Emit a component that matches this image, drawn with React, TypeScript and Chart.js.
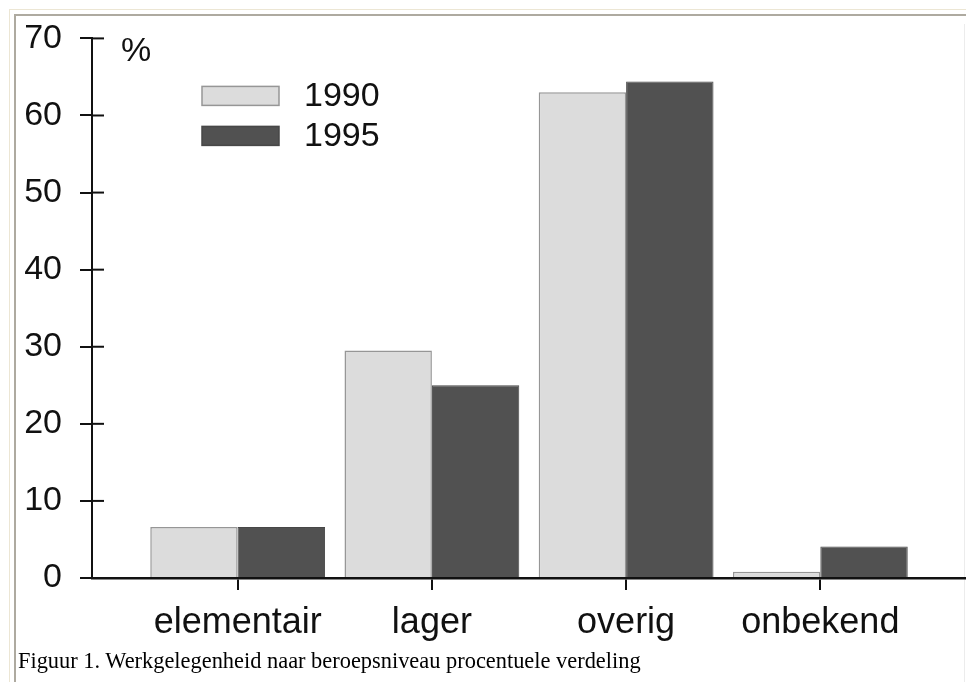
import React, { useEffect, useRef } from 'react';
import { Chart, registerables } from 'chart.js';

Chart.register(...registerables);

const categories = ['elementair', 'lager', 'overig', 'onbekend'];
const seriesLabels = ['1990', '1995'];
const values1990 = [6.6, 29.5, 63.0, 0.8];
const values1995 = [6.6, 25.0, 64.4, 4.1];
const yTickValues = [0, 10, 20, 30, 40, 50, 60, 70];
const unitLabel = '%';
const caption = 'Figuur 1. Werkgelegenheid naar beroepsniveau procentuele verdeling';

const SANS = '"Liberation Sans", Arial, Helvetica, sans-serif';
const LIGHT_FILL = '#dcdcdc';
const LIGHT_BORDER = '#969696';
const DARK_FILL = '#515151';
const DARK_BORDER = '#474747';
const INK = '#111111';

const overlayPlugin = {
  id: 'overlay',
  afterDraw(chart: any) {
    const { ctx, chartArea } = chart;
    const yScale = chart.scales.y;
    ctx.save();
    // inner half of the y ticks (ticks cross the axis)
    ctx.strokeStyle = INK;
    ctx.lineWidth = 2;
    yScale.ticks.forEach((t: any) => {
      const py = yScale.getPixelForValue(t.value);
      ctx.beginPath();
      ctx.moveTo(chartArea.left, py);
      ctx.lineTo(chartArea.left + 12, py);
      ctx.stroke();
    });
    // unit label
    ctx.fillStyle = INK;
    ctx.font = `34px ${SANS}`;
    ctx.textAlign = 'left';
    ctx.textBaseline = 'alphabetic';
    ctx.fillText(unitLabel, chartArea.left + 29, chartArea.top + 23);
    // legend inside the plot
    const fills = [LIGHT_FILL, DARK_FILL];
    const borders = [LIGHT_BORDER, DARK_BORDER];
    seriesLabels.forEach((lab, i) => {
      const sx = chartArea.left + 110;
      const sy = chartArea.top + 48 + i * 40;
      ctx.fillStyle = fills[i];
      ctx.fillRect(sx, sy, 77, 19);
      ctx.strokeStyle = borders[i];
      ctx.lineWidth = 1.5;
      ctx.strokeRect(sx, sy, 77, 19);
      ctx.fillStyle = INK;
      ctx.font = `34px ${SANS}`;
      ctx.fillText(lab, chartArea.left + 212, chartArea.top + 68 + i * 39.5);
    });
    ctx.restore();
  },
};

function BarChart() {
  const ref = useRef<HTMLCanvasElement>(null);
  useEffect(() => {
    if (!ref.current) return;
    const pos = categories.map((_, i) => i + 1);
    const chart = new Chart(ref.current, {
      type: 'bar',
      data: {
        datasets: [
          {
            label: seriesLabels[0],
            data: values1990.map((v, i) => ({ x: pos[i], y: v })),
            backgroundColor: LIGHT_FILL,
            borderColor: LIGHT_BORDER,
            borderWidth: 1.5,
            categoryPercentage: 0.9,
            barPercentage: 1.0,
          },
          {
            label: seriesLabels[1],
            data: values1995.map((v, i) => ({ x: pos[i], y: v })),
            backgroundColor: DARK_FILL,
            borderColor: DARK_BORDER,
            borderWidth: 1,
            categoryPercentage: 0.9,
            barPercentage: 1.0,
          },
        ],
      },
      options: {
        animation: false,
        responsive: true,
        maintainAspectRatio: false,
        layout: { padding: { left: 0, right: 0, top: 37, bottom: 0 } },
        plugins: {
          legend: { display: false },
          tooltip: { enabled: false },
        },
        scales: {
          x: {
            type: 'linear',
            min: 0.25,
            max: 4.75,
            offset: false,
            afterBuildTicks: (scale: any) => {
              scale.ticks = pos.map((v) => ({ value: v }));
            },
            afterFit: (scale: any) => {
              scale.height = 104;
            },
            ticks: {
              autoSkip: false,
              maxRotation: 0,
              padding: 11,
              color: INK,
              font: { family: SANS, size: 36 },
              callback: (v: any) => categories[Math.round(Number(v)) - 1] ?? '',
            },
            grid: {
              offset: false,
              drawOnChartArea: false,
              drawTicks: true,
              tickLength: 12,
              color: INK,
              lineWidth: 2,
            },
            border: { display: true, color: INK, width: 2.5 },
          },
          y: {
            min: 0,
            max: 70,
            afterBuildTicks: (scale: any) => {
              scale.ticks = yTickValues.map((v) => ({ value: v }));
            },
            afterFit: (scale: any) => {
              scale.width = 92;
            },
            ticks: {
              padding: 18,
              color: INK,
              font: { family: SANS, size: 34 },
            },
            grid: {
              drawOnChartArea: false,
              drawTicks: true,
              tickLength: 12,
              color: INK,
              lineWidth: 2,
            },
            border: { display: true, color: INK, width: 2 },
          },
        },
      },
      plugins: [overlayPlugin],
    });
    return () => chart.destroy();
  }, []);
  return <canvas ref={ref} />;
}

export default function App() {
  return (
    <div
      style={{
        position: 'absolute',
        left: 0,
        top: 0,
        width: 966,
        height: 682,
        background: '#ffffff',
        overflow: 'hidden',
      }}
    >
      <div
        style={{
          position: 'absolute',
          left: 9,
          top: 9,
          right: 0,
          bottom: 0,
          borderTop: '1px solid #ece6d4',
          borderLeft: '1px solid #ece6d4',
        }}
      />
      <div
        style={{
          position: 'absolute',
          left: 14,
          top: 14,
          right: 0,
          bottom: 0,
          borderTop: '2px solid #aeaaa0',
          borderLeft: '2px solid #aeaaa0',
        }}
      />
      <div
        style={{
          position: 'absolute',
          left: 964,
          top: 24,
          width: 1,
          bottom: 0,
          background: '#ececec',
        }}
      />
      <div style={{ position: 'absolute', left: 0, top: 0, width: 966, height: 682 }}>
        <BarChart />
      </div>
      <div
        style={{
          position: 'absolute',
          left: 18,
          top: 650,
          fontFamily: '"Liberation Serif", "Times New Roman", serif',
          fontSize: 22.4,
          lineHeight: '22px',
          color: '#000',
          whiteSpace: 'nowrap',
        }}
      >
        {caption}
      </div>
    </div>
  );
}
